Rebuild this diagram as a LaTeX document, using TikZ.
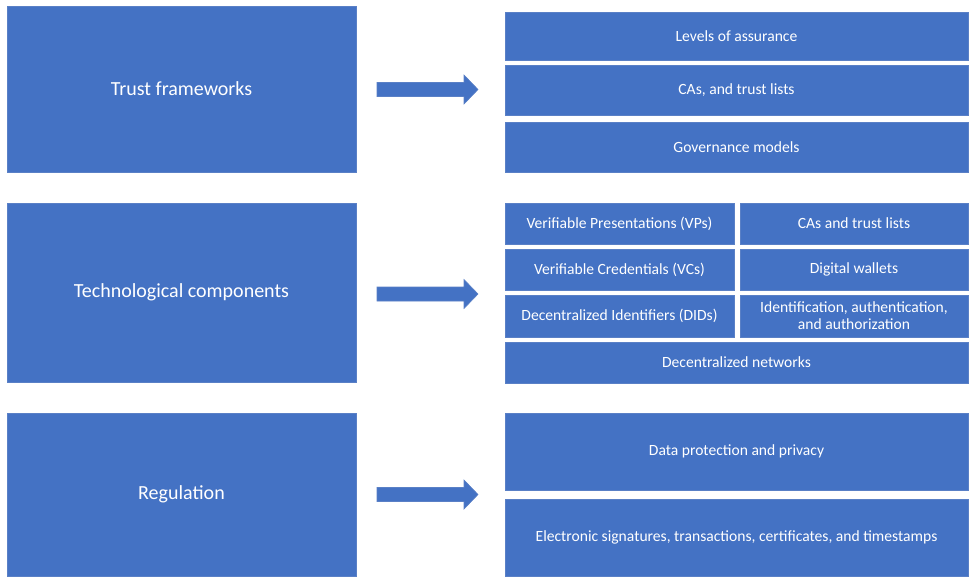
\documentclass[tikz,border=0pt]{standalone}
\usepackage{fontspec}
\setmainfont{Carlito}
\definecolor{obox}{HTML}{4472C4}
\definecolor{oedge}{HTML}{5A80C6}
\begin{document}
\begin{tikzpicture}[x=1pt,y=-1pt,
  bx/.style={rectangle, fill=obox, draw=oedge, line width=0.6pt, inner sep=0pt, text=white, align=center},
  lbox/.style={bx, font=\fontsize{20}{24}\selectfont},
  rbox/.style={bx, font=\fontsize{15.6}{18}\selectfont},
  barrow/.style={fill=obox, draw=oedge, line width=0.6pt}]
\useasboundingbox (0,0) rectangle (974,579);
% left boxes
\node[lbox, minimum width=349pt, minimum height=166pt] (tf) at (181.5,89) {Trust frameworks};
\node[lbox, minimum width=349pt, minimum height=179pt] (tc) at (181.5,292.5) {Technological components};
\node[lbox, minimum width=349pt, minimum height=163pt] (rg) at (181.5,494.5) {Regulation};
% trust frameworks group
\node[rbox, minimum width=463pt, minimum height=48pt] (loa) at (736.5,36) {Levels of assurance};
\node[rbox, minimum width=463pt, minimum height=50pt] (cas) at (736.5,90) {CAs, and trust lists};
\node[rbox, minimum width=463pt, minimum height=50pt] (gov) at (736.5,147) {Governance models};
% technological group
\node[rbox, minimum width=229pt, minimum height=41pt] (vp) at (619.5,223.5) {Verifiable Presentations (VPs)};
\node[rbox, minimum width=228pt, minimum height=41pt] (ca2) at (854,223.5) {CAs and trust lists};
\node[rbox, minimum width=229pt, minimum height=41pt] (vc) at (619.5,269.5) {Verifiable Credentials (VCs)};
\node[rbox, minimum width=228pt, minimum height=41pt] (dw) at (854,269.5) {Digital wallets};
\node[rbox, minimum width=229pt, minimum height=42pt] (did) at (619.5,316) {Decentralized Identifiers (DIDs)};
\node[rbox, minimum width=228pt, minimum height=42pt] (iaa) at (854,316) {Identification, authentication,\\[-1pt]and authorization};
\node[rbox, minimum width=463pt, minimum height=41pt] (dn) at (736.5,362.5) {Decentralized networks};
% regulation group
\node[rbox, minimum width=463pt, minimum height=77pt] (dpp) at (736.5,451.5) {Data protection and privacy};
\node[rbox, minimum width=463pt, minimum height=77pt] (es) at (736.5,537.5) {Electronic signatures, transactions, certificates, and timestamps};
% block arrows
\foreach \n/\c in {a1/89.5, a2/294, a3/494.5}{
  \coordinate (\n s) at (377,\c);
  \coordinate (\n t) at (478,\c);
  \draw[barrow] (\n s) ++(0,-7) -- ++(87,0) -- ++(0,-7.5) -- (\n t) -- ++(-14,14.5) -- ++(0,-7.5) -- ++(-87,0) -- cycle;
}
\end{tikzpicture}
\end{document}
